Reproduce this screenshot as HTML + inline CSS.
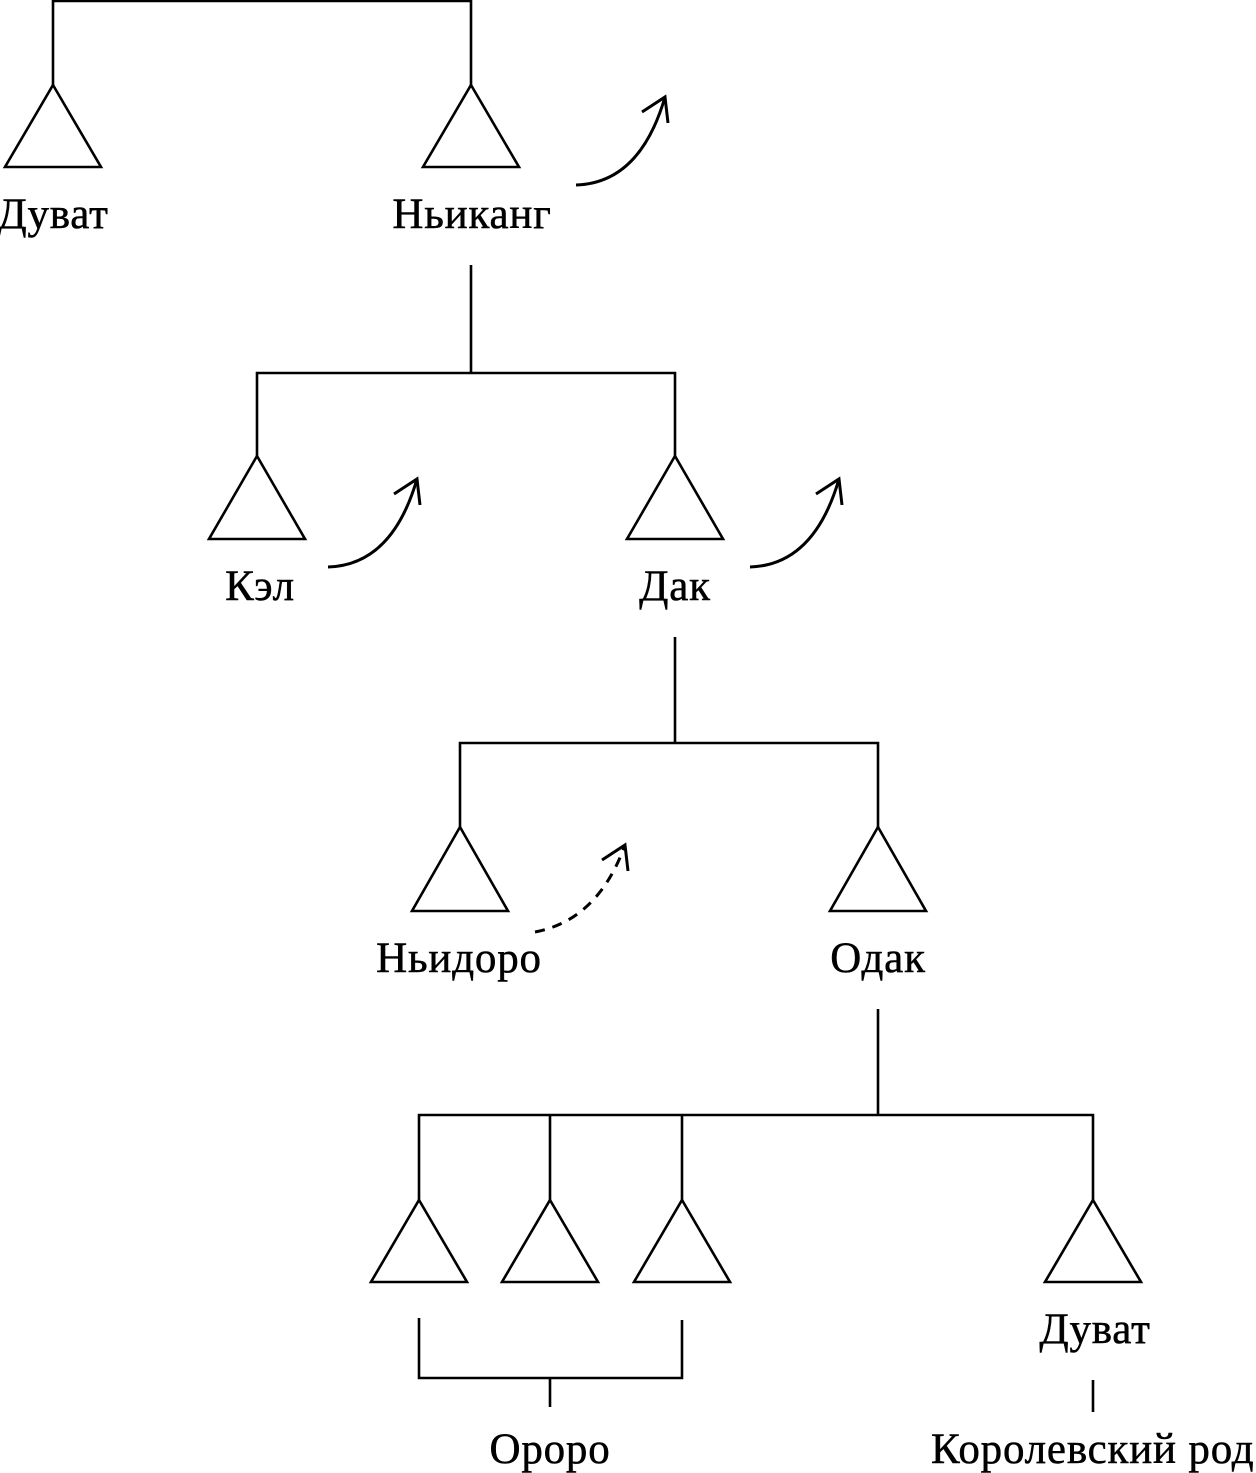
<!DOCTYPE html>
<html><head><meta charset="utf-8"><style>body{margin:0;background:#fff}svg{display:block}</style></head><body>
<svg width="1256" height="1473" viewBox="0 0 1256 1473" xmlns="http://www.w3.org/2000/svg">
<defs>
<g id="a" fill="none" stroke="#000" stroke-width="3"><path d="M0,88 Q64,86 89,0"/><path d="M66,15 L89,0 L92,26"/></g>
</defs>
<g fill="none" stroke="#000" stroke-width="2.6">
<path d="M53,85 V1 H471 V85"/>
<path d="M53,85 L101,167 H5 Z"/><path d="M471,85 L519,167 H423 Z"/>
<path d="M471,265 V373 M257,456 V373 H675 V456"/>
<path d="M257,456 L305,539 H209 Z"/><path d="M675,456 L723,539 H627 Z"/>
<path d="M675,637 V743 M460,827 V743 H878 V827"/>
<path d="M460,827 L508,911 H412 Z"/><path d="M878,827 L926,911 H830 Z"/>
<path d="M878,1009 V1115 M419,1200 V1115 H1093 V1200 M550,1115 V1200 M682,1115 V1200"/>
<path d="M419,1200 L467,1282 H371 Z"/><path d="M550,1200 L598,1282 H502 Z"/><path d="M682,1200 L730,1282 H634 Z"/><path d="M1093,1200 L1141,1282 H1045 Z"/>
<path d="M419,1318 V1378 H682 V1320 M550,1378 V1407"/>
<path d="M1093,1380 V1412"/>
<path d="M535,932 Q598,920 625,845" stroke-dasharray="10,8" stroke-width="3"/><path d="M602,860 L625,845 L628,871" stroke-width="3"/>
</g>
<use href="#a" x="576" y="97"/>
<use href="#a" x="328" y="479"/>
<use href="#a" x="750" y="479"/>
<g font-family="Liberation Serif, serif" font-size="43" letter-spacing="0.8" text-anchor="middle" fill="#000" stroke="#000" stroke-width="0.5">
<text x="53" y="228">Дуват</text>
<text x="472" y="228">Ньиканг</text>
<text x="260" y="600">Кэл</text>
<text x="675" y="600">Дак</text>
<text x="459" y="972">Ньидоро</text>
<text x="878" y="972">Одак</text>
<text x="1095" y="1343">Дуват</text>
<text x="550" y="1463">Ороро</text>
<text x="931" y="1463" text-anchor="start">Королевский род</text>
</g>
</svg>
</body></html>
